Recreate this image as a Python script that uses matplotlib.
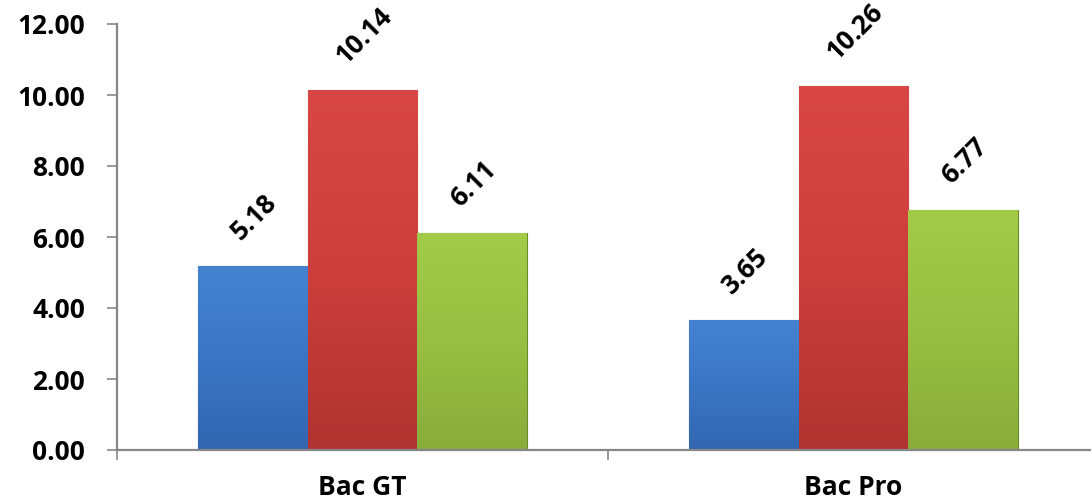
import numpy as np
import matplotlib.pyplot as plt
from matplotlib.colors import LinearSegmentedColormap

categories = ['Bac GT', 'Bac Pro']
series_a = [5.18, 3.65]    # blue
series_b = [10.14, 10.26]  # red
series_c = [6.11, 6.77]    # green
y_ticks = [0, 2, 4, 6, 8, 10, 12]

colors = [('#4482d0', '#3b76c4', '#3266b0'),
          ('#d84745', '#cc3e3c', '#b03431'),
          ('#a3ca48', '#98bf42', '#8aac3b')]
edges = ['#2a5590', '#8c2826', '#6a8a2a']

plt.rcParams['font.family'] = ['Open Sans', 'DejaVu Sans']
plt.rcParams['font.weight'] = 'bold'

fig = plt.figure(figsize=(10.91, 5.04), dpi=100)
ax = fig.add_axes([117 / 1091, 54 / 504, 982 / 1091, 426 / 504])

x = np.arange(len(categories))
width = 0.223
offsets = [-width, 0, width]

for k, vals in enumerate([series_a, series_b, series_c]):
    cmap = LinearSegmentedColormap.from_list('g%d' % k, list(colors[k]))
    bars = ax.bar(x + offsets[k], vals, width, color=colors[k][1],
                  edgecolor=edges[k], linewidth=0.8, zorder=2)
    for bar, v in zip(bars, vals):
        x0 = bar.get_x()
        grad = np.linspace(0, 1, 100).reshape(-1, 1)
        im = ax.imshow(grad, cmap=cmap, aspect='auto', origin='upper',
                       extent=[x0, x0 + width, 0, v], zorder=2.1)
        im.set_clip_path(bar)
        # rotated value label sitting above the bar
        ax.annotate('%.2f' % v, (x0 + width / 2, v), xytext=(1, 15),
                    textcoords='offset points', ha='center', va='bottom',
                    rotation=45, fontsize=19, fontweight='bold')

ax.set_xlim(-0.5, 1.5)
ax.set_ylim(0, 12)
ax.set_yticks(y_ticks)
ax.set_yticklabels(['%.2f' % t for t in y_ticks], fontsize=19, fontweight='bold')
ax.set_xticks(x)
ax.set_xticklabels(categories, fontsize=19, fontweight='bold')
ax.set_xticks([-0.5, 0.5, 1.5], minor=True)
ax.tick_params(axis='x', which='major', length=0, pad=17)
ax.tick_params(axis='x', which='minor', length=7, width=1.2, color='#878787')
ax.tick_params(axis='y', length=7, width=1.2, color='#878787', pad=16)

for s in ['top', 'right']:
    ax.spines[s].set_visible(False)
for s in ['left', 'bottom']:
    ax.spines[s].set_color('#878787')
    ax.spines[s].set_linewidth(1.6)
ax.spines['bottom'].set_zorder(3)

fig.savefig('out.png', dpi=100)
